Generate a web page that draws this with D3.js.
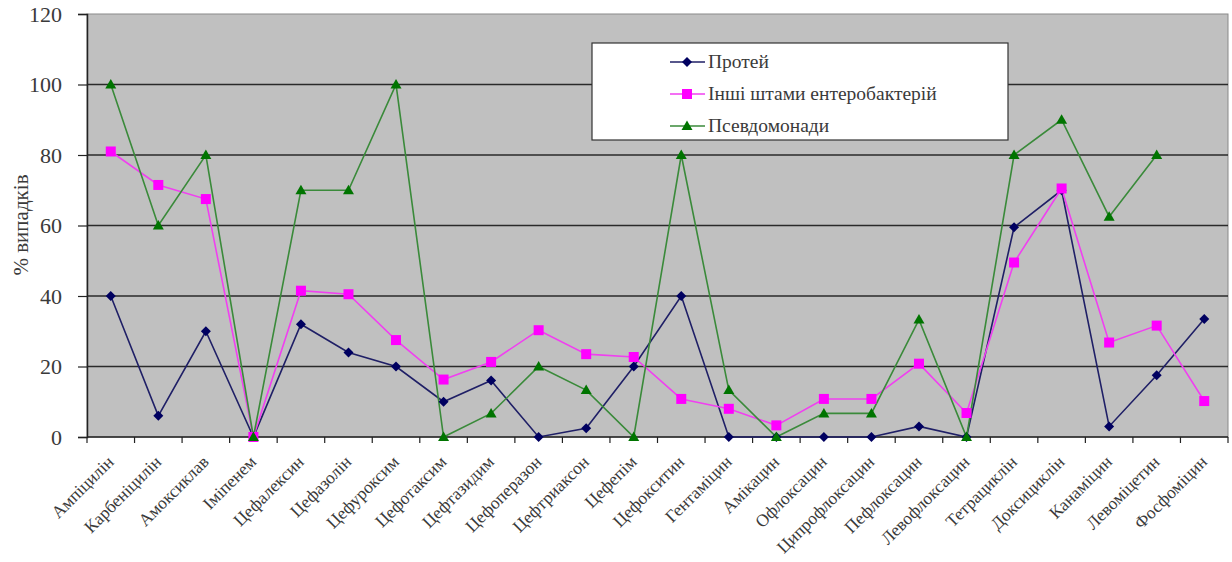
<!DOCTYPE html>
<html>
<head>
<meta charset="utf-8">
<script src="https://cdn.jsdelivr.net/npm/d3@7"></script>
<style>
  html, body { margin: 0; padding: 0; background: #fff; }
  svg { display: block; }
</style>
</head>
<body>
<svg id="chart" width="1232" height="562"></svg>
<script>
// Antibiotics on the x axis
const categories = [
  "Ампіцилін", "Карбеніцилін", "Амоксиклав", "Іміпенем", "Цефалексин",
  "Цефазолін", "Цефуроксим", "Цефотаксим", "Цефтазидим", "Цефоперазон",
  "Цефтриаксон", "Цефепім", "Цефокситин", "Гентаміцин", "Амікацин",
  "Офлоксацин", "Ципрофлоксацин", "Пефлоксацин", "Левофлоксацин",
  "Тетрациклін", "Доксициклін", "Канаміцин", "Левоміцетин", "Фосфоміцин"
];

// % of cases per group
const proteus = [40, 6, 30, 0, 32, 24, 20, 10, 16, 0, 2.5, 20, 40, 0, 0, 0, 0, 3, 0, 59.5, 70, 3, 17.5, 33.5];
const enterobacteria = [81, 71.5, 67.5, 0, 41.5, 40.5, 27.5, 16.3, 21.3, 30.3, 23.5, 22.7, 10.8, 8, 3.3, 10.8, 10.8, 20.8, 6.8, 49.5, 70.5, 26.8, 31.6, 10.2];
const pseudomonas = [100, 60, 80, 0, 70, 70, 100, 0, 6.7, 20, 13.3, 0, 80, 13.3, 0, 6.7, 6.7, 33.3, 0, 80, 90, 62.5, 80, null];

const yTicks = [0, 20, 40, 60, 80, 100, 120];
const seriesNames = ["Протей", "Інші штами ентеробактерій", "Псевдомонади"];
const yTitle = "% випадків";

const series = [
  { name: seriesNames[0], values: proteus, line: "#1f1f66", fill: "#000060", marker: "diamond" },
  { name: seriesNames[1], values: enterobacteria, line: "#f040f0", fill: "#ff00ff", marker: "square" },
  { name: seriesNames[2], values: pseudomonas, line: "#3a8a3a", fill: "#007400", marker: "triangle" }
];

const svg = d3.select("#chart");
const margin = { left: 87, right: 4, top: 14, bottom: 125 };
const W = 1232, H = 562;
const plotW = W - margin.left - margin.right;
const plotH = H - margin.top - margin.bottom;

const x = d3.scaleBand().domain(categories).range([margin.left, margin.left + plotW]);
const y = d3.scaleLinear().domain([0, 120]).range([margin.top + plotH, margin.top]);
const serif = "'Liberation Serif', 'Times New Roman', serif";
const textColor = "#3a3a3a";

// plot background
svg.append("rect")
  .attr("x", margin.left).attr("y", margin.top)
  .attr("width", plotW).attr("height", plotH)
  .attr("fill", "#c0c0c0").attr("stroke", "#8a8a8a").attr("stroke-width", 1);

// horizontal gridlines
svg.append("g").selectAll("line").data(yTicks.filter(d => d > 0 && d < 120)).join("line")
  .attr("x1", margin.left).attr("x2", margin.left + plotW)
  .attr("y1", d => y(d)).attr("y2", d => y(d))
  .attr("stroke", "#2a2a2a").attr("stroke-width", 1.5);

// y axis
const yAxis = svg.append("g")
  .attr("transform", `translate(${margin.left},0)`)
  .call(d3.axisLeft(y).tickValues(yTicks).tickSize(9).tickPadding(16));
yAxis.select(".domain").attr("stroke", "#222").attr("stroke-width", 1.5);
yAxis.selectAll(".tick line").attr("stroke", "#222").attr("stroke-width", 1.2);
yAxis.selectAll("text").attr("font-family", serif).attr("font-size", 22).attr("fill", textColor);

// x axis with ticks at category boundaries
const xBase = y(0);
svg.append("line")
  .attr("x1", margin.left).attr("x2", margin.left + plotW)
  .attr("y1", xBase).attr("y2", xBase)
  .attr("stroke", "#222").attr("stroke-width", 1.5);
const bounds = categories.map(c => x(c)).concat([margin.left + plotW]);
svg.append("g").selectAll("line").data(bounds).join("line")
  .attr("x1", d => d).attr("x2", d => d)
  .attr("y1", xBase).attr("y2", xBase + 6)
  .attr("stroke", "#222").attr("stroke-width", 1.2);

// rotated category labels
svg.append("g").selectAll("text").data(categories).join("text")
  .attr("transform", d => `translate(${x(d) + x.bandwidth() / 2 + 4},${xBase + 26}) rotate(-45)`)
  .attr("text-anchor", "end")
  .attr("font-family", serif).attr("font-size", 17.5).attr("fill", textColor)
  .text(d => d);

// y axis title
svg.append("text")
  .attr("transform", `translate(28,225) rotate(-90)`)
  .attr("text-anchor", "middle")
  .attr("font-family", serif).attr("font-size", 21).attr("fill", textColor)
  .text(yTitle);

// marker shapes
function markerPath(type) {
  if (type === "diamond") return "M0,-5L5,0L0,5L-5,0Z";
  if (type === "square") return "M-5,-5H5V5H-5Z";
  return "M0,-5.5L5.5,4L-5.5,4Z";
}

const cx = c => x(c) + x.bandwidth() / 2;
series.forEach(s => {
  const pts = categories.map((c, i) => ({ c, v: s.values[i] }));
  const line = d3.line().defined(d => d.v != null).x(d => cx(d.c)).y(d => y(d.v));
  svg.append("path").datum(pts)
    .attr("d", line).attr("fill", "none")
    .attr("stroke", s.line).attr("stroke-width", 1.6);
});
series.forEach(s => {
  const pts = categories.map((c, i) => ({ c, v: s.values[i] })).filter(d => d.v != null);
  svg.append("g").selectAll("path").data(pts).join("path")
    .attr("transform", d => `translate(${cx(d.c)},${y(d.v)})`)
    .attr("d", markerPath(s.marker)).attr("fill", s.fill);
});

// legend
const lg = svg.append("g").attr("transform", "translate(592,43)");
lg.append("rect").attr("width", 416).attr("height", 97)
  .attr("fill", "#fff").attr("stroke", "#333").attr("stroke-width", 1.2);
series.forEach((s, i) => {
  const ly = 19 + i * 32;
  lg.append("line").attr("x1", 78).attr("x2", 113).attr("y1", ly).attr("y2", ly)
    .attr("stroke", s.line).attr("stroke-width", 1.6);
  lg.append("path").attr("transform", `translate(95,${ly})`)
    .attr("d", markerPath(s.marker)).attr("fill", s.fill);
  lg.append("text").attr("x", 116).attr("y", ly + 6)
    .attr("font-family", serif).attr("font-size", 19.5).attr("fill", textColor)
    .text(s.name);
});
</script>
</body>
</html>
